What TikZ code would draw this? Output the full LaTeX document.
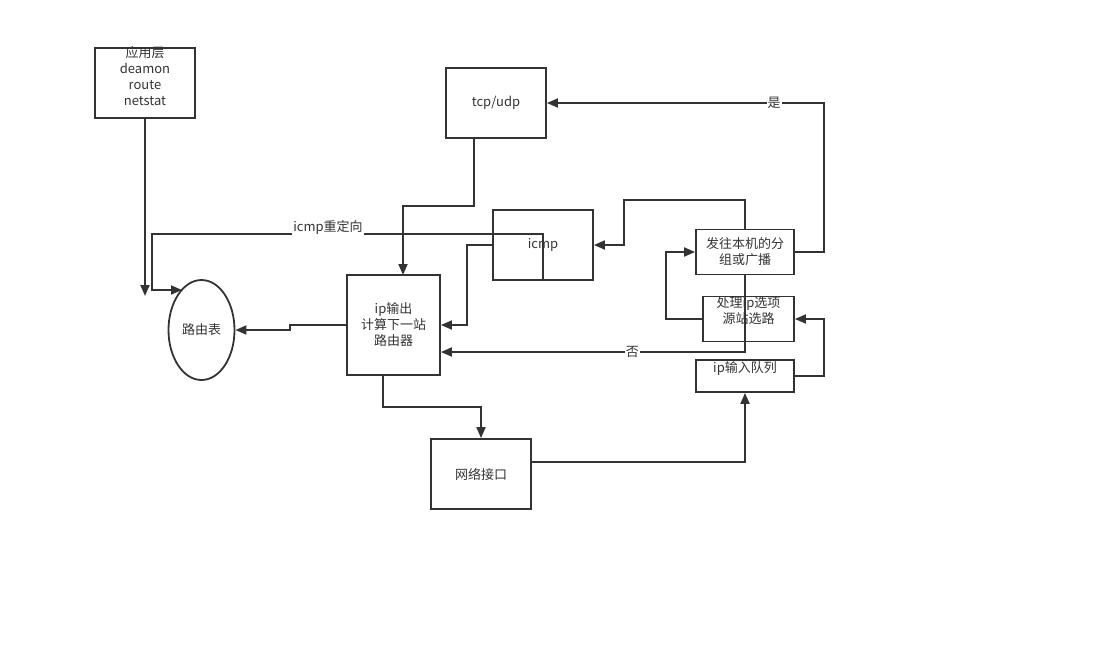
\documentclass[tikz,border=0pt]{standalone}
\usepackage{fontspec}
\setmainfont{Noto Sans CJK SC}
\usetikzlibrary{arrows.meta,shapes.geometric}
\begin{document}
\begin{tikzpicture}[x=1pt,y=-1pt,
  box/.style={draw=black!80,line width=1.8pt,rectangle,inner sep=0pt},
  txt/.style={inner sep=0pt,align=center,text=black!80,font=\fontsize{13}{16}\selectfont},
  conn/.style={draw=black!80,line width=1.8pt,-{Triangle[length=11pt,width=9pt]}},
  lab/.style={fill=white,inner sep=1pt,text=black!80,font=\fontsize{13}{16}\selectfont}]
\useasboundingbox (0,0) rectangle (1100,649);
% boxes
\node[box,minimum width=100pt,minimum height=70pt] (app) at (145,83) {};
\node[txt] (appT) at (145,76) {应用层\\deamon\\route\\netstat};
\node[box,minimum width=100pt,minimum height=70pt,txt] (tcp) at (496,103) {tcp/udp};
\node[box,minimum width=100pt,minimum height=70pt] (icmp) at (543,245) {};
\node[txt] (icmpT) at (543,245) {icmp};
\node[box,minimum width=93pt,minimum height=100pt,txt] (ipout) at (393.5,325) {ip输出\\计算下一站\\路由器};
\node[draw=black!80,line width=1.8pt,ellipse,minimum width=66pt,minimum height=100pt,txt] (rt) at (201.5,330) {路由表};
\node[box,minimum width=98pt,minimum height=45pt,txt] (local) at (745,252) {发往本机的分\\组或广播};
\node[box,minimum width=91pt,minimum height=45pt] (ipopt) at (748.5,319) {};
\node[txt] (ipoptT) at (748.5,311) {处理ip选项\\源站选路};
\node[box,minimum width=98pt,minimum height=32pt] (ipin) at (745,376) {};
\node[txt] (ipinT) at (745,368) {ip输入队列};
\node[box,minimum width=100pt,minimum height=70pt,txt] (net) at (481,474) {网络接口};
% connectors
\coordinate (appEnd) at (145,296);
\coordinate (rtIn) at (182,290);
\draw[conn] (app.south) -- (appEnd);
\draw[conn] (icmp.south) -- (543,234) -- node[lab,pos=0.55,yshift=7pt] (redir) {icmp重定向} (152,234) -- (152,290) -- (rtIn);
\draw[conn] (tcp.south -| 474,0) -- (474,206) -- (403,206) -- (403,275);
\draw[conn] (icmp.west) -- (467,245) -- (467,325) -- (ipout.east |- 0,325);
\draw[conn] (ipout.west) -- (290,325) -- (290,330) -- (rt.east);
\draw[conn] (383,375) -- (383,407) -- (481,407) -- (net.north);
\draw[conn] (net.east |- 0,462) -- (745,462) -- (ipin.south);
\draw[conn] (ipin.east) -- (824,376) -- (824,319) -- (ipopt.east);
\draw[conn] (ipopt.west) -- (666,319) -- (666,252) -- (local.west);
\draw[conn] (local.north) -- (745,200) -- (624,200) -- (624,245) -- (icmp.east);
\draw[conn] (local.east) -- (824,252) -- (824,103) -- node[lab,pos=0.18] (yes) {是} (tcp.east);
\draw[conn] (local.south) -- (745,352) -- node[lab,pos=0.37] (no) {否} (ipout.east |- 0,352);
\end{tikzpicture}
\end{document}
